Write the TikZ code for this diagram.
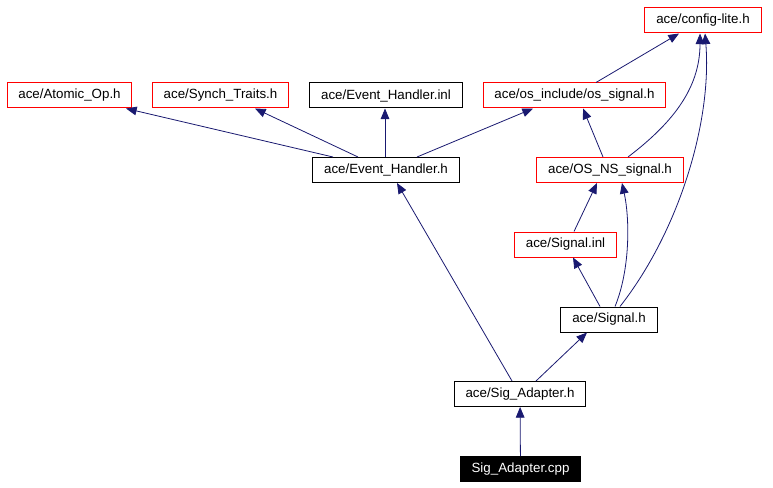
\documentclass[tikz,border=0pt]{standalone}
\usepackage{fontspec}
\setmainfont{Liberation Sans}
\usepackage{tikz}
\usetikzlibrary{arrows.meta,calc}
\definecolor{edgeblue}{RGB}{25,25,112}

\begin{document}
\begin{tikzpicture}[x=0.75pt, y=-0.75pt, font=\fontsize{10}{12}\selectfont,
	file/.style={draw=black, line width=0.75pt, minimum height=18.75pt, inner xsep=8.5pt, inner ysep=0pt},
	ext/.style={file, draw=red},
	main/.style={file, fill=black, text=white},
	dep/.style={draw=edgeblue, line width=0.6pt, -{Triangle[length=8pt,width=6.5pt]}}]
	\useasboundingbox (0,0) rectangle (773,488);
	\node[ext] (conf) at (703,20.5) {ace/config-lite.h};
	\node[ext] (atom) at (69.5,95.5) {ace/Atomic\_Op.h};
	\node[ext] (synch) at (220.5,95.5) {ace/Synch\_Traits.h};
	\node[file] (evinl) at (386,95.5) {ace/Event\_Handler.inl};
	\node[ext] (ossig) at (574.5,95.5) {ace/os\_include/os\_signal.h};
	\node[file] (evh) at (386,170) {ace/Event\_Handler.h};
	\node[ext] (osns) at (610,170) {ace/OS\_NS\_signal.h};
	\node[ext] (siginl) at (565.5,244.5) {ace/Signal.inl};
	\node[file] (sigh) at (609,319.5) {ace/Signal.h};
	\node[file] (sigad) at (520,394) {ace/Sig\_Adapter.h};
	\node[main] (cpp) at (520.5,469) {Sig\_Adapter.cpp};

	\draw[dep] (cpp) -- (sigad);
	\draw[dep] ($(sigad.north)+(-8,0)$) -- ($(evh.south)+(11,0)$);
	\draw[dep] ($(sigad.north)+(16,0)$) -- ($(sigh.south)+(-22,0)$);
	\draw[dep] ($(sigh.north)+(-9,0)$) -- ($(siginl.south)+(7.5,0)$);
	\draw[dep] ($(sigh.north)+(6,0)$) .. controls (630,270) and (630,220) .. ($(osns.south)+(12,0)$);
	\draw[dep] ($(sigh.north)+(11,0)$) .. controls (680,230) and (712,120) .. ($(conf.south)+(2,0)$);
	\draw[dep] ($(siginl.north)+(8.5,0)$) -- ($(osns.south)+(-13,0)$);
	\draw[dep] ($(osns.north)+(-7,0)$) -- ($(ossig.south)+(8.5,0)$);
	\draw[dep] ($(osns.north)+(18,0)$) .. controls (670,125) and (700,90) .. ($(conf.south)+(-3,0)$);
	\draw[dep] ($(ossig.north)+(21.5,0)$) -- ($(conf.south)+(-24,0)$);
	\draw[dep] ($(evh.north)+(-53,0)$) -- ($(atom.south)+(56.5,0)$);
	\draw[dep] ($(evh.north)+(-28,0)$) -- ($(synch.south)+(34.5,0)$);
	\draw[dep] ($(evh.north)+(-1,0)$) -- ($(evinl.south)+(-1,0)$);
	\draw[dep] ($(evh.north)+(31,0)$) -- ($(ossig.south)+(-41.5,0)$);
\end{tikzpicture}
\end{document}
